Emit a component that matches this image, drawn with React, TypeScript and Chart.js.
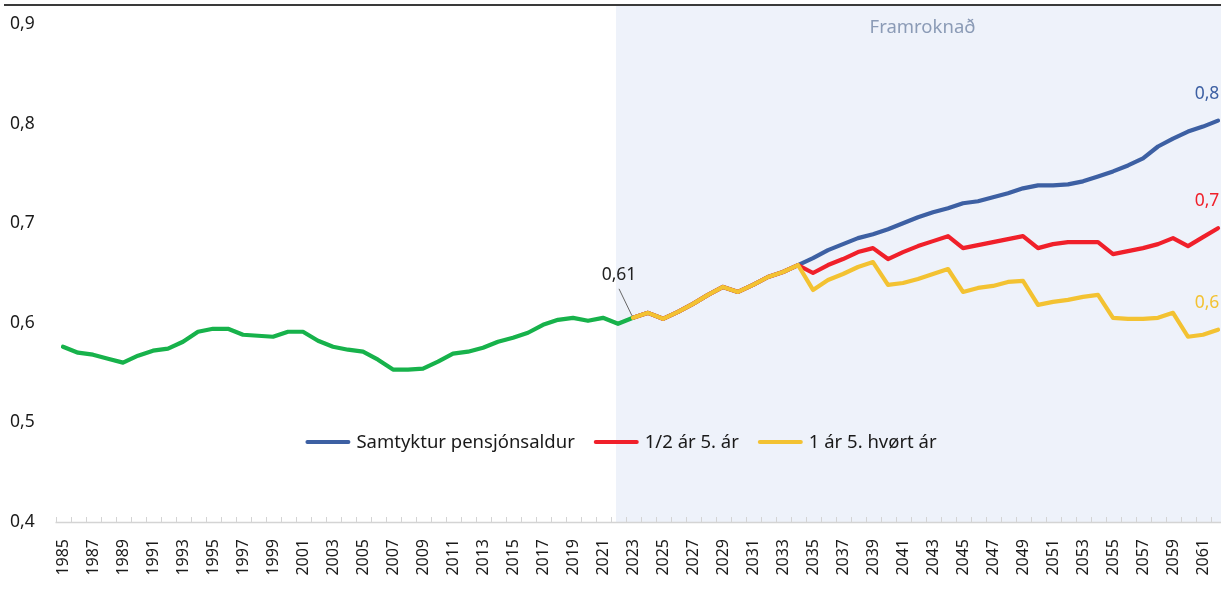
import React, { useEffect, useRef } from "react";
import { Chart, registerables } from "chart.js";
Chart.register(...registerables);

const years = [
  "1985","1986","1987","1988","1989","1990","1991","1992","1993","1994",
  "1995","1996","1997","1998","1999","2000","2001","2002","2003","2004",
  "2005","2006","2007","2008","2009","2010","2011","2012","2013","2014",
  "2015","2016","2017","2018","2019","2020","2021","2022","2023","2024",
  "2025","2026","2027","2028","2029","2030","2031","2032","2033","2034",
  "2035","2036","2037","2038","2039","2040","2041","2042","2043","2044",
  "2045","2046","2047","2048","2049","2050","2051","2052","2053","2054",
  "2055","2056","2057","2058","2059","2060","2061","2062",
];

// Historical 1985-2023
const historical = [
  0.576, 0.570, 0.568, 0.564, 0.560, 0.567, 0.572, 0.574, 0.581, 0.591,
  0.594, 0.594, 0.588, 0.587, 0.586, 0.591, 0.591, 0.582, 0.576, 0.573,
  0.571, 0.563, 0.553, 0.553, 0.554, 0.561, 0.569, 0.571, 0.575, 0.581,
  0.585, 0.590, 0.598, 0.603, 0.605, 0.602, 0.605, 0.599, 0.605,
];

// Shared projection 2023-2034
const commonProjection = [0.605, 0.610, 0.604, 0.611, 0.619, 0.628, 0.636, 0.631, 0.638, 0.646, 0.651, 0.658];

// 2035-2062
const blueTail = [
  0.665, 0.673, 0.679, 0.685, 0.689, 0.694, 0.700, 0.706, 0.711, 0.715,
  0.720, 0.722, 0.726, 0.730, 0.735, 0.738, 0.738, 0.739, 0.742, 0.747,
  0.752, 0.758, 0.765, 0.777, 0.785, 0.792, 0.797, 0.803,
];
const redTail = [
  0.650, 0.658, 0.664, 0.671, 0.675, 0.664, 0.671, 0.677, 0.682, 0.687,
  0.675, 0.678, 0.681, 0.684, 0.687, 0.675, 0.679, 0.681, 0.681, 0.681,
  0.669, 0.672, 0.675, 0.679, 0.685, 0.677, 0.686, 0.695,
];
const yellowTail = [
  0.633, 0.643, 0.649, 0.656, 0.661, 0.638, 0.640, 0.644, 0.649, 0.654,
  0.631, 0.635, 0.637, 0.641, 0.642, 0.618, 0.621, 0.623, 0.626, 0.628,
  0.605, 0.604, 0.604, 0.605, 0.610, 0.586, 0.588, 0.593,
];

const seriesNames = ["Samtyktur pensjónsaldur", "1/2 ár 5. ár", "1 ár 5. hvørt ár"];
const endLabels = ["0,8", "0,7", "0,6"];
const startLabel = "0,61";
const projectionLabel = "Framroknað";
const projectionStartYear = "2022";
const annotatedYear = "2023";

const GREEN = "#17b24b";
const BLUE = "#3d60a3";
const RED = "#f0202a";
const YELLOW = "#f3c232";
const FONT = '"Noto Sans", "Open Sans", sans-serif';

const pad = (n: number) => new Array(n).fill(null);
const histData = [...historical, ...pad(years.length - historical.length)];
const projStart = historical.length - 1;
const blueData = [...pad(projStart), ...commonProjection, ...blueTail];
const redData = [...pad(projStart), ...commonProjection, ...redTail];
const yellowData = [...pad(projStart), ...commonProjection, ...yellowTail];

export default function App() {
  const ref = useRef<HTMLCanvasElement>(null);
  useEffect(() => {
    document.body.style.margin = "0";
    const canvas = ref.current!;
    const deco = {
      id: "deco",
      beforeDatasetsDraw(chart: any) {
        const { ctx, chartArea } = chart;
        const xs = chart.scales.x;
        const sx = xs.getPixelForValue(years.indexOf(projectionStartYear)) - 2;
        ctx.save();
        ctx.fillStyle = "#eef2fa";
        ctx.fillRect(sx, 6, chart.width - sx, chartArea.bottom - 6);
        ctx.strokeStyle = "#3a3a3a";
        ctx.lineWidth = 2;
        ctx.beginPath();
        ctx.moveTo(4, 5);
        ctx.lineTo(chart.width, 5);
        ctx.stroke();
        ctx.fillStyle = "#8b9bb6";
        ctx.font = `18.5px ${FONT}`;
        ctx.textAlign = "center";
        ctx.textBaseline = "middle";
        ctx.fillText(projectionLabel, (sx + 1221) / 2 + 4, 28);
        // axis line + ticks
        ctx.strokeStyle = "#d4d4d4";
        ctx.lineWidth = 1.5;
        ctx.beginPath();
        ctx.moveTo(chartArea.left, chartArea.bottom + 0.5);
        ctx.lineTo(chartArea.right, chartArea.bottom + 0.5);
        ctx.stroke();
        ctx.lineWidth = 1;
        const step = (chartArea.right - chartArea.left) / years.length;
        ctx.beginPath();
        for (let i = 0; i <= years.length; i++) {
          const x = Math.round(chartArea.left + i * step) + 0.5;
          ctx.moveTo(x, chartArea.bottom - 5);
          ctx.lineTo(x, chartArea.bottom);
        }
        ctx.stroke();
        ctx.restore();
      },
      afterDatasetsDraw(chart: any) {
        const { ctx } = chart;
        const xs = chart.scales.x;
        const ys = chart.scales.y;
        ctx.save();
        const lastIdx = years.length - 1;
        const tails = [blueData, redData, yellowData];
        const cols = [BLUE, RED, YELLOW];
        ctx.font = `17.5px ${FONT}`;
        ctx.textAlign = "center";
        ctx.textBaseline = "middle";
        tails.forEach((d, k) => {
          const x = xs.getPixelForValue(lastIdx) - 11;
          const y = ys.getPixelForValue(d[lastIdx] as number) - 27;
          ctx.fillStyle = cols[k];
          ctx.fillText(endLabels[k], x, y);
        });
        const ai = years.indexOf(annotatedYear);
        const ax = xs.getPixelForValue(ai);
        const ay = ys.getPixelForValue(historical[ai]);
        ctx.strokeStyle = "#666";
        ctx.lineWidth = 1;
        ctx.beginPath();
        ctx.moveTo(ax - 14, ay - 29);
        ctx.lineTo(ax - 1, ay - 2);
        ctx.stroke();
        ctx.fillStyle = "#222";
        ctx.fillText(startLabel, ax - 14, ay - 43);
        // legend
        ctx.font = `18.5px ${FONT}`;
        const lineLen = 45, lineGap = 6, itemGap = 19;
        const widths = seriesNames.map((s) => ctx.measureText(s).width);
        const total = widths.reduce((a, w) => a + lineLen + lineGap + w, 0) + itemGap * (seriesNames.length - 1);
        let x = 621 - total / 2;
        const ly = 442;
        ctx.textAlign = "left";
        ctx.lineCap = "round";
        seriesNames.forEach((s, k) => {
          ctx.strokeStyle = cols[k];
          ctx.lineWidth = 4;
          ctx.beginPath();
          ctx.moveTo(x + 2, ly);
          ctx.lineTo(x + lineLen - 2, ly);
          ctx.stroke();
          ctx.fillStyle = "#1a1a1a";
          ctx.fillText(s, x + lineLen + lineGap, ly + 1);
          x += lineLen + lineGap + widths[k] + itemGap;
        });
        ctx.restore();
      },
    };
    const lineDs = (data: any[], color: string, order: number) => ({
      data,
      borderColor: color,
      backgroundColor: color,
      borderWidth: 4.2,
      pointRadius: 0,
      tension: 0,
      spanGaps: false,
      order,
    });
    const chart = new Chart(canvas, {
      type: "line",
      data: {
        labels: years,
        datasets: [
          lineDs(yellowData, YELLOW, 0),
          lineDs(histData, GREEN, 1),
          lineDs(redData, RED, 2),
          lineDs(blueData, BLUE, 3),
        ],
      },
      options: {
        responsive: false,
        animation: false,
        devicePixelRatio: 1,
        layout: { padding: { left: 10, right: 6.5, top: 24, bottom: 0 } },
        elements: { line: { borderCapStyle: "round", borderJoinStyle: "round" } },
        plugins: { legend: { display: false }, tooltip: { enabled: false } },
        scales: {
          x: {
            offset: true,
            grid: { display: false, offset: true },
            border: { display: false },
            ticks: {
              autoSkip: false,
              maxRotation: 90,
              minRotation: 90,
              padding: 9,
              color: "#1a1a1a",
              font: { family: FONT, size: 16 },
              callback: (_v: any, i: number) => (i % 2 === 0 ? years[i] : ""),
            },
            afterFit: (s: any) => {
              s.height = 68;
              s.paddingLeft = 0;
              s.paddingRight = 0;
            },
          },
          y: {
            min: 0.4,
            max: 0.9,
            grid: { display: false },
            border: { display: false },
            ticks: {
              stepSize: 0.1,
              crossAlign: "far",
              color: "#1a1a1a",
              font: { family: FONT, size: 17.5 },
              callback: (v: any) => Number(v).toFixed(1).replace(".", ","),
            },
            afterFit: (s: any) => {
              s.width = 45.5;
              s.paddingTop = 0;
              s.paddingBottom = 0;
            },
          },
        },
      } as any,
      plugins: [deco],
    });
    return () => chart.destroy();
  }, []);
  return (
    <div style={{ position: "fixed", left: 0, top: 0, width: 1221, height: 590, overflow: "hidden", background: "#fff" }}>
      <canvas ref={ref} width={1232} height={590} style={{ display: "block" }} />
    </div>
  );
}
